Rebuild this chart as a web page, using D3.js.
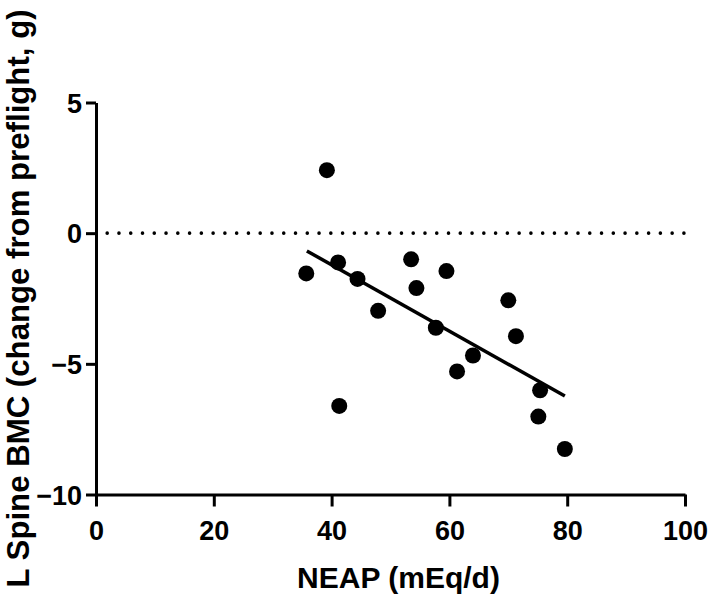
<!DOCTYPE html>
<html>
<head>
<meta charset="utf-8">
<script src="https://cdn.jsdelivr.net/npm/d3@7"></script>
<style>
  html, body { margin: 0; padding: 0; background: #fff; }
  svg { display: block; }
  text { font-family: "Liberation Sans", Arial, sans-serif; font-weight: bold; fill: #000; }
</style>
</head>
<body>
<script>
// ---- data ----
const neap = [39.2, 35.7, 41.1, 44.4, 47.9, 53.5, 54.4, 59.5, 57.7, 61.3, 64.0, 70.0, 71.3, 75.4, 75.1, 79.6, 41.3];
const bmc  = [2.41, -1.54, -1.12, -1.75, -2.97, -1.0, -2.1, -1.45, -3.62, -5.29, -4.68, -2.57, -3.94, -6.01, -7.02, -8.26, -6.61];
const fitX = [35.8, 79.6];
const fitY = [-0.68, -6.23];
const xTicks = [0, 20, 40, 60, 80, 100];
const yTicks = [5, 0, -5, -10];
const refY = 0;
const xTitle = "NEAP (mEq/d)";
const yTitle = "L Spine BMC (change from preflight, g)";

// ---- layout ----
const W = 709, H = 597;
const x = d3.scaleLinear().domain([0, 100]).range([96, 685]);
const y = d3.scaleLinear().domain([-10, 5]).range([494.5, 102.5]);

const svg = d3.select("body").append("svg").attr("width", W).attr("height", H);

// reference dotted line at 0
svg.append("line")
  .attr("x1", x(1.9)).attr("x2", x(100)).attr("y1", y(refY)).attr("y2", y(refY))
  .attr("stroke", "#000").attr("stroke-width", 3.6)
  .attr("stroke-linecap", "round").attr("stroke-dasharray", "0 11.77");

// x axis
const xAxis = svg.append("g").attr("transform", `translate(0,${y(-10)})`)
  .call(d3.axisBottom(x).tickValues(xTicks).tickSize(12).tickPadding(14).tickSizeOuter(0));
// y axis
const yAxis = svg.append("g").attr("transform", `translate(${x(0)},0)`)
  .call(d3.axisLeft(y).tickValues(yTicks).tickSize(10).tickPadding(4).tickSizeOuter(0));

[xAxis, yAxis].forEach(g => {
  g.select(".domain").attr("stroke", "#000").attr("stroke-width", 3);
  g.selectAll(".tick line").attr("stroke", "#000").attr("stroke-width", 3);
  g.selectAll(".tick text").style("font-size", "27px").style("font-family", "'Liberation Sans', Arial, sans-serif").style("font-weight", "bold").attr("fill", "#000");
});
xAxis.selectAll(".tick text").attr("dy", "0.71em");
yAxis.selectAll(".tick text").attr("dy", "0.36em");

// regression line
svg.append("line")
  .attr("x1", x(fitX[0])).attr("y1", y(fitY[0]))
  .attr("x2", x(fitX[1])).attr("y2", y(fitY[1]))
  .attr("stroke", "#000").attr("stroke-width", 3.5);

// points
svg.append("g").selectAll("circle")
  .data(neap.map((v, i) => [v, bmc[i]]))
  .join("circle")
  .attr("cx", d => x(d[0])).attr("cy", d => y(d[1]))
  .attr("r", 8).attr("fill", "#000");

// axis titles
svg.append("text")
  .attr("x", (x(0) + x(100)) / 2 + 8).attr("y", 588)
  .attr("text-anchor", "middle").style("font-size", "30px")
  .text(xTitle);

svg.append("text")
  .attr("transform", `translate(29,298.5) rotate(-90)`)
  .attr("text-anchor", "middle").style("font-size", "31.2px")
  .text(yTitle);
</script>
</body>
</html>
